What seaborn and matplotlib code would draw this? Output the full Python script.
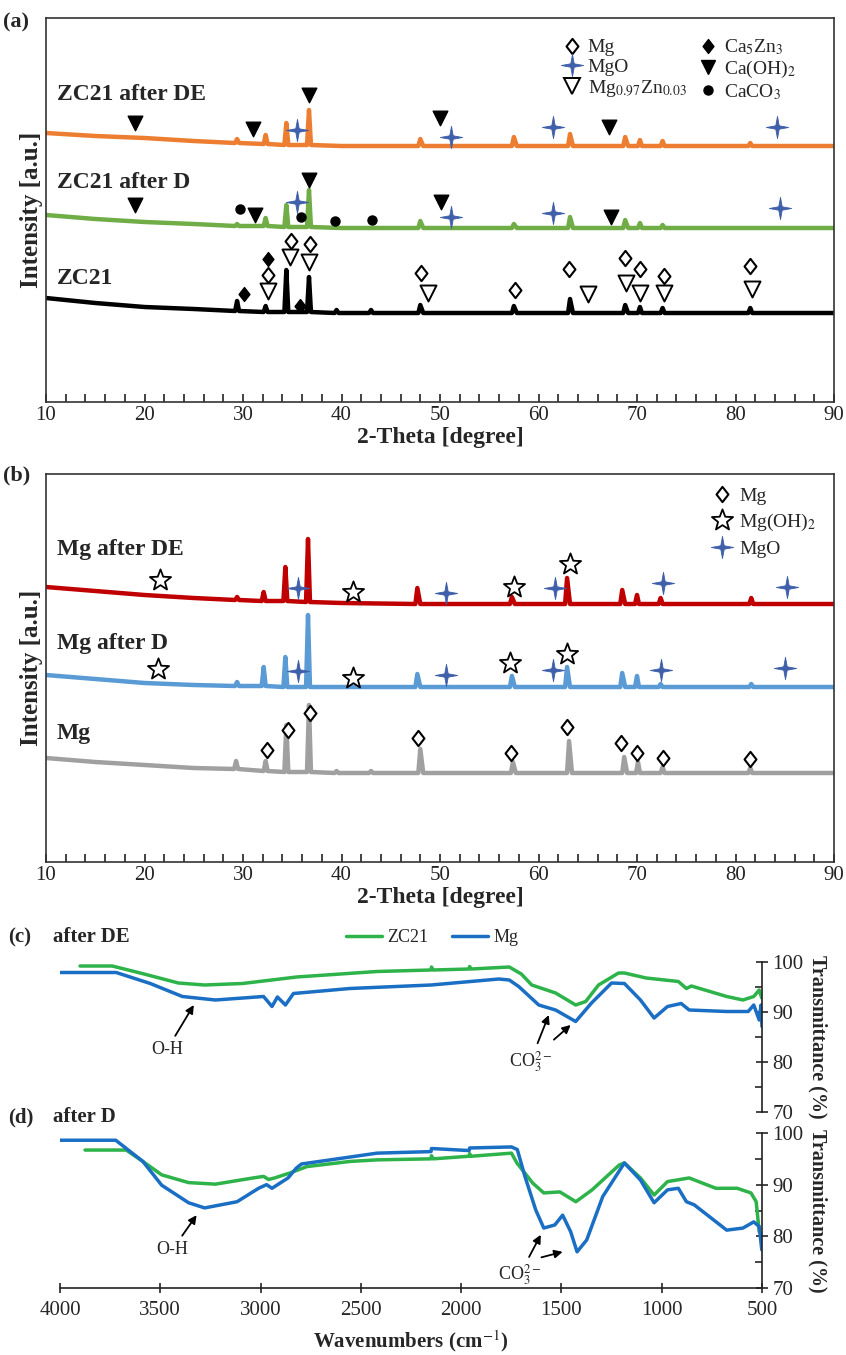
import numpy as np
import pandas as pd
import seaborn as sns
import matplotlib.pyplot as plt
from matplotlib.path import Path
from matplotlib.lines import Line2D
from matplotlib.ticker import MultipleLocator

# ---------------- XRD (a): ZC21 ----------------
zc21_de_tt = [10, 15, 20, 25, 29.2, 29.4, 29.6, 32.1, 32.3, 32.5, 34.2, 34.4, 34.6, 36.5, 36.7, 36.9, 40,
              47.8, 48.0, 48.3, 57.3, 57.5, 57.8, 63.0, 63.2, 63.5, 68.6, 68.8, 69.1, 70.1, 70.3, 70.5,
              72.4, 72.6, 72.8, 81.3, 81.5, 81.7, 90]
zc21_de_int = [269, 266, 264, 261, 259, 263, 259, 258, 267, 258, 257, 279, 257, 257, 292, 257, 256,
               256, 263, 256, 256, 265, 256, 256, 268, 256, 256, 265, 256, 256, 262, 256,
               256, 261, 256, 256, 259, 256, 256]

zc21_d_tt = [10, 15, 20, 25, 29.2, 29.4, 29.6, 32.1, 32.3, 32.5, 34.2, 34.4, 34.6, 36.5, 36.7, 36.9, 40,
             47.8, 48.0, 48.3, 57.3, 57.5, 57.8, 63.0, 63.2, 63.5, 68.6, 68.8, 69.1, 70.1, 70.3, 70.5,
             72.4, 72.6, 72.8, 90]
zc21_d_int = [187, 183, 180, 178, 176, 178, 176, 176, 184, 176, 175, 197, 175, 175, 212, 175, 174,
              174, 181, 174, 174, 178, 174, 174, 185, 174, 174, 182, 174, 174, 179, 174,
              174, 177, 174, 174]

zc21_tt = [10, 15, 20, 25, 29.2, 29.4, 29.6, 32.1, 32.3, 32.5, 34.2, 34.4, 34.6, 36.5, 36.7, 36.9,
           39.3, 39.5, 39.7, 42.8, 43.0, 43.2, 47.8, 48.0, 48.3, 57.3, 57.5, 57.8, 63.0, 63.2, 63.5,
           68.6, 68.8, 69.1, 70.1, 70.3, 70.5, 72.4, 72.6, 72.8, 81.3, 81.5, 81.7, 90]
zc21_int = [104, 99, 95, 93, 91, 101, 91, 90, 96, 90, 90, 132, 90, 90, 125, 90,
            89, 92, 89, 89, 92, 89, 89, 97, 89, 89, 96, 89, 89, 103, 89,
            89, 97, 89, 89, 95, 89, 89, 94, 89, 89, 94, 89, 89]

# phase markers (a)
caoh2_tt = [19.0, 31.0, 36.7, 50.0, 67.2, 19.0, 31.2, 36.7, 50.1, 67.4]
caoh2_int = [279, 273, 307, 284, 275, 197, 187, 222, 200, 185]
mgo_a_tt = [35.5, 51.1, 61.5, 84.2, 35.5, 51.1, 61.5, 84.5]
mgo_a_int = [272, 265, 275, 275, 200, 185, 189, 194]
caco3_tt = [29.7, 35.9, 39.3, 43.1]
caco3_int = [193, 185, 181, 182]
ca5zn3_tt = [30.1, 32.5, 35.8]
ca5zn3_int = [108, 143, 96]
mg_a_tt = [32.5, 34.9, 36.8, 48.1, 57.6, 63.1, 68.8, 70.3, 72.7, 81.5]
mg_a_int = [127, 161, 158, 129, 112, 133, 144, 133, 126, 136]
mgzn_tt = [32.5, 34.8, 36.7, 48.8, 65.0, 68.9, 70.3, 72.7, 81.7]
mgzn_int = [111, 145, 140, 109, 108, 119, 109, 109, 113]

# ---------------- XRD (b): Mg ----------------
mg_de_tt = [10, 15, 20, 25, 29.2, 29.4, 29.6, 31.9, 32.1, 32.3, 34.1, 34.3, 34.5, 36.4, 36.6, 36.8, 40,
            47.5, 47.7, 48.0, 57.1, 57.3, 57.6, 62.7, 62.9, 63.2, 68.3, 68.5, 68.8, 69.8, 70.0, 70.2,
            72.2, 72.4, 72.6, 81.4, 81.6, 81.8, 90]
mg_de_int = [275, 271, 267, 264, 262, 265, 262, 261, 270, 261, 261, 295, 261, 260, 323, 260, 259,
             258, 274, 258, 258, 265, 258, 258, 284, 258, 258, 272, 258, 258, 267, 258,
             258, 264, 258, 258, 264, 258, 258]

mg_d_tt = mg_de_tt
mg_d_int = [187, 183, 179, 177, 176, 180, 176, 176, 195, 176, 175, 205, 175, 175, 247, 175, 175,
            175, 188, 175, 175, 186, 175, 175, 195, 175, 175, 189, 175, 175, 186, 175,
            175, 178, 175, 175, 178, 175, 175]

mg_tt = [10, 15, 20, 25, 29.1, 29.3, 29.5, 32.1, 32.3, 32.5, 34.2, 34.4, 34.6, 36.5, 36.7, 36.9,
         39.3, 39.5, 39.7, 42.8, 43.0, 43.2, 47.8, 48.0, 48.3, 57.2, 57.4, 57.7, 62.9, 63.1, 63.4,
         68.5, 68.7, 69.0, 69.9, 70.1, 70.3, 72.4, 72.6, 72.8, 81.3, 81.5, 81.7, 90]
mg_int = [104, 100, 97, 94, 93, 101, 93, 91, 101, 91, 90, 137, 90, 90, 157, 90,
          89, 91, 89, 89, 91, 89, 89, 113, 89, 89, 100, 89, 89, 121, 89,
          89, 105, 89, 89, 100, 89, 89, 95, 89, 89, 94, 89, 89]

mgoh2_tt = [21.6, 41.2, 57.5, 63.2, 21.4, 41.2, 57.1, 62.9]
mgoh2_int = [282, 270, 275, 298, 193, 184, 199, 208]
mgo_b_tt = [35.6, 50.6, 61.7, 72.6, 85.2, 35.6, 50.6, 61.5, 72.4, 85.0]
mgo_b_int = [274, 269, 274, 279, 275, 191, 187, 192, 192, 194]
mg_b_tt = [32.4, 34.6, 36.8, 47.8, 57.2, 62.9, 68.4, 70.0, 72.6, 81.5]
mg_b_int = [112, 132, 149, 124, 109, 135, 119, 109, 104, 103]

# ---------------- FTIR (c) after DE ----------------
wn_c_zc = [3900, 3740, 3600, 3410, 3280, 3090, 2820, 2420, 2150, 2148, 2140, 1960, 1958, 1950, 1760,
           1700, 1648, 1529, 1429, 1379, 1315, 1215, 1186, 1078, 917, 877, 852, 676, 595, 541, 514, 501]
t_c_zc = [99.2, 99.2, 97.8, 95.8, 95.4, 95.7, 97.0, 98.1, 98.4, 99.0, 98.4, 98.6, 99.1, 98.6, 99.0,
          97.6, 95.4, 93.8, 91.4, 92.1, 95.4, 97.8, 97.8, 96.8, 96.1, 94.7, 95.2, 93.1, 92.4, 93.1, 94.4, 92.8]
wn_c_mg = [4000, 3720, 3550, 3390, 3225, 2985, 2943, 2916, 2876, 2836, 2555, 2150, 1812, 1760, 1713,
           1613, 1529, 1429, 1350, 1250, 1186, 1106, 1038, 971, 903, 863, 676, 569, 541, 514, 505, 500]
t_c_mg = [97.9, 97.9, 95.7, 93.1, 92.4, 93.1, 91.1, 93.0, 91.4, 93.7, 94.7, 95.4, 96.6, 96.4, 95.1,
          91.4, 90.4, 88.1, 91.8, 95.8, 95.7, 92.4, 88.8, 91.1, 91.7, 90.4, 90.1, 90.1, 91.4, 88.4, 91.4, 87.1]

# ---------------- FTIR (d) after D ----------------
wn_d_zc = [3875, 3670, 3587, 3493, 3359, 3225, 3037, 2985, 2960, 2930, 2851, 2769, 2553, 2419, 2150,
           2148, 2140, 1960, 1958, 1950, 1749, 1722, 1643, 1588, 1508, 1428, 1347, 1212, 1186, 1106,
           1038, 971, 863, 730, 624, 555, 529, 514]
t_d_zc = [96.7, 96.7, 94.5, 91.9, 90.4, 90.1, 91.3, 91.6, 91.0, 91.3, 92.3, 93.5, 94.5, 94.8, 95.0,
          95.6, 95.0, 95.5, 96.0, 95.5, 96.1, 94.2, 90.3, 88.4, 88.6, 86.7, 89.0, 93.8, 94.2, 91.3,
          88.0, 90.6, 91.3, 89.3, 89.3, 88.4, 86.7, 80.9]
wn_d_mg = [4000, 3722, 3587, 3493, 3359, 3279, 3117, 3010, 2970, 2943, 2903, 2863, 2822, 2796, 2419,
           2150, 2148, 1960, 1958, 1749, 1720, 1682, 1628, 1588, 1533, 1494, 1454, 1422, 1374, 1294,
           1186, 1106, 1038, 971, 917, 877, 838, 676, 595, 541, 514, 501]
t_d_mg = [98.6, 98.6, 94.5, 89.9, 86.5, 85.5, 86.7, 89.3, 90.0, 89.3, 90.3, 91.3, 93.2, 94.0, 96.1,
          96.4, 97.0, 96.6, 97.1, 97.3, 96.8, 91.6, 85.1, 81.6, 82.2, 84.1, 80.9, 77.0, 79.3, 87.7,
          94.2, 90.9, 86.5, 89.0, 89.3, 86.7, 86.1, 81.2, 81.6, 82.8, 81.9, 77.4]

# ---------------- styling ----------------
sns.set_theme(style="ticks")
plt.rcParams['font.family'] = ['Liberation Serif', 'DejaVu Serif']
plt.rcParams['mathtext.fontset'] = 'stix'

W, H = 846, 1355
ORANGE, GREEN, BLACK = '#ED7D31', '#70AD47', '#000000'
RED, LBLUE, GRAY = '#C00000', '#5B9BD5', '#A0A0A0'
STAR_BLUE = '#3F5FAA'
IR_GREEN, IR_BLUE = '#2DB34A', '#1A6FC4'
XRD_LW = 3.2


def star_marker(n, inner):
    ang = np.linspace(0, 2 * np.pi, 2 * n, endpoint=False) + np.pi / 2
    rad = np.array([1.0, inner] * n)
    verts = list(zip(rad * np.cos(ang), rad * np.sin(ang)))
    verts.append(verts[0])
    codes = [Path.MOVETO] + [Path.LINETO] * (2 * n - 1) + [Path.CLOSEPOLY]
    return Path(verts, codes)


STAR4 = star_marker(4, 0.22)
STAR5 = star_marker(5, 0.42)
DIAMOND = Path([(0, 1), (0.78, 0), (0, -1), (-0.78, 0), (0, 1)],
               [Path.MOVETO, Path.LINETO, Path.LINETO, Path.LINETO, Path.CLOSEPOLY])

MARKERS = {
    'mg': dict(marker=DIAMOND, ms=11, mfc='white', mec='black', mew=1.5),
    'mgo': dict(marker=STAR4, ms=16, mfc=STAR_BLUE, mec=STAR_BLUE, mew=0.6),
    'mgzn': dict(marker='v', ms=11.5, mfc='white', mec='black', mew=1.4),
    'ca5zn3': dict(marker=DIAMOND, ms=10, mfc='black', mec='black', mew=1),
    'caoh2': dict(marker='v', ms=10.5, mfc='black', mec='black', mew=1),
    'caco3': dict(marker='o', ms=6.5, mfc='black', mec='black', mew=1),
    'mgoh2': dict(marker=STAR5, ms=16, mfc='white', mec='black', mew=1.3),
}


def scatter(ax, xs, ys, key):
    st = MARKERS[key]
    sns.scatterplot(x=xs, y=ys, marker=st['marker'], s=st['ms'] ** 2, facecolor=st['mfc'],
                    edgecolor=st['mec'], linewidth=st['mew'], ax=ax, zorder=4, legend=False)


def handle(key, label):
    st = MARKERS[key]
    return Line2D([], [], ls='', label=label, **st)


def xrd_axes(top_px, bottom_px):
    ax = fig.add_axes([46 / W, 1 - bottom_px / H, 788 / W, (bottom_px - top_px) / H])
    ax.set_xlim(10, 90)
    ax.set_ylim(0, bottom_px - top_px)
    ax.xaxis.set_major_locator(MultipleLocator(10))
    ax.xaxis.set_minor_locator(MultipleLocator(2))
    ax.tick_params(axis='x', which='both', direction='in', length=6, width=1.2,
                   labelsize=15, pad=3, colors='#222222')
    ax.set_yticks([])
    for s in ax.spines.values():
        s.set_linewidth(1.2)
        s.set_color('#333333')
    ax.set_xlabel('2-Theta [degree]', fontsize=17, fontweight='bold', labelpad=1)
    ax.set_ylabel('Intensity [a.u.]', fontsize=18, fontweight='bold', labelpad=2)
    return ax


def line(ax, xs, ys, color, lw, label=None):
    sns.lineplot(x=xs, y=ys, sort=False, estimator=None, color=color, lw=lw, ax=ax,
                 label=label, legend=False)


fig = plt.figure(figsize=(W / 100, H / 100), dpi=100)

# ---- (a)
ax_a = xrd_axes(18, 402)
line(ax_a, zc21_de_tt, zc21_de_int, ORANGE, XRD_LW)
line(ax_a, zc21_d_tt, zc21_d_int, GREEN, XRD_LW)
line(ax_a, zc21_tt, zc21_int, BLACK, XRD_LW)
scatter(ax_a, caoh2_tt, caoh2_int, 'caoh2')
scatter(ax_a, mgo_a_tt, mgo_a_int, 'mgo')
scatter(ax_a, caco3_tt, caco3_int, 'caco3')
scatter(ax_a, ca5zn3_tt, ca5zn3_int, 'ca5zn3')
scatter(ax_a, mg_a_tt, mg_a_int, 'mg')
scatter(ax_a, mgzn_tt, mgzn_int, 'mgzn')
for txt, yv in [('ZC21 after DE', 307), ('ZC21 after D', 220), ('ZC21', 124)]:
    ax_a.text(11.1, yv, txt, fontsize=17, fontweight='bold', va='center')
ax_a.legend(handles=[handle('mg', 'Mg'), handle('mgo', 'MgO'),
                     handle('mgzn', r'Mg$_{0.97}$Zn$_{0.03}$'),
                     handle('ca5zn3', r'Ca$_5$Zn$_3$'), handle('caoh2', r'Ca(OH)$_2$'),
                     handle('caco3', r'CaCO$_3$')],
            ncol=2, loc='upper left', bbox_to_anchor=(0.643, 0.975), frameon=False,
            fontsize=14, handlelength=1.0, handletextpad=0.3, columnspacing=0.6,
            labelspacing=0.1, borderpad=0)

# ---- (b)
ax_b = xrd_axes(474, 862)
line(ax_b, mg_de_tt, mg_de_int, RED, XRD_LW)
line(ax_b, mg_d_tt, mg_d_int, LBLUE, XRD_LW)
line(ax_b, mg_tt, mg_int, GRAY, XRD_LW)
scatter(ax_b, mgoh2_tt, mgoh2_int, 'mgoh2')
scatter(ax_b, mgo_b_tt, mgo_b_int, 'mgo')
scatter(ax_b, mg_b_tt, mg_b_int, 'mg')
for txt, yv in [('Mg after DE', 313), ('Mg after D', 219), ('Mg', 129)]:
    ax_b.text(11.1, yv, txt, fontsize=17, fontweight='bold', va='center')
ax_b.legend(handles=[handle('mg', 'Mg'), handle('mgoh2', r'Mg(OH)$_2$'), handle('mgo', 'MgO')],
            loc='upper left', bbox_to_anchor=(0.833, 0.99), frameon=False, fontsize=14,
            handlelength=1.0, handletextpad=0.4, labelspacing=0.35, borderpad=0)

fig.text(3 / W, 1 - 22 / H, '(a)', fontsize=16, fontweight='bold', va='center')
fig.text(3 / W, 1 - 475 / H, '(b)', fontsize=16, fontweight='bold', va='center')


# ---- FTIR
def ftir_axes(top_px, bottom_px):
    ax = fig.add_axes([60 / W, 1 - bottom_px / H, 702 / W, (bottom_px - top_px) / H])
    ax.set_facecolor('none')
    ax.set_xlim(4000, 500)
    ax.set_ylim(70, 100)
    for side in ['left', 'top', 'bottom']:
        ax.spines[side].set_visible(False)
    ax.spines['right'].set_bounds(70, 100)
    ax.spines['right'].set_linewidth(1.2)
    ax.spines['right'].set_color('#222222')
    ax.yaxis.tick_right()
    ax.yaxis.set_label_position('right')
    ax.set_yticks([70, 80, 90, 100])
    ax.yaxis.set_minor_locator(MultipleLocator(5))
    ax.tick_params(axis='y', which='major', direction='inout', length=9, width=1.2,
                   labelsize=15, pad=3)
    ax.tick_params(axis='y', which='minor', direction='in', length=5, width=1.2)
    ax.set_ylabel('Transmittance (%)', fontsize=14.5, fontweight='bold', rotation=270,
                  labelpad=17)
    return ax


ax_c = ftir_axes(962, 1112)
line(ax_c, wn_c_zc, t_c_zc, IR_GREEN, 2.5, 'ZC21')
line(ax_c, wn_c_mg, t_c_mg, IR_BLUE, 2.5, 'Mg')
ax_c.set_xticks([])
ax_c.legend(loc='center', bbox_to_anchor=(432 / W, 1 - 938 / H), bbox_transform=fig.transFigure,
            ncol=2, frameon=False, fontsize=13, handlelength=2.0, handletextpad=0.3,
            columnspacing=1.3, borderpad=0)
arrow = dict(arrowstyle='-|>', color='black', lw=1.3, mutation_scale=12, shrinkA=2, shrinkB=0)
ax_c.annotate('O-H', xy=(3333, 91.4), xytext=(3468, 82.4), arrowprops=arrow,
              ha='center', va='center', fontsize=13)
ax_c.annotate(r'CO$_3^{2-}$', xy=(1563, 89.4), xytext=(1655, 80.1), arrowprops=arrow,
              ha='center', va='center', fontsize=13)
ax_c.annotate('', xy=(1454, 87.4), xytext=(1548, 84.1), arrowprops=arrow)

ax_d = ftir_axes(1133, 1288)
line(ax_d, wn_d_zc, t_d_zc, IR_GREEN, 2.5)
line(ax_d, wn_d_mg, t_d_mg, IR_BLUE, 2.5)
ax_d.spines['bottom'].set_visible(True)
ax_d.spines['bottom'].set_bounds(500, 4000)
ax_d.spines['bottom'].set_linewidth(1.2)
ax_d.spines['bottom'].set_color('#222222')
ax_d.set_xticks(list(range(4000, 499, -500)))
ax_d.tick_params(axis='x', which='major', direction='inout', length=7, width=1.2,
                 labelsize=15, pad=6, bottom=True)
ax_d.set_xlabel(r'Wavenumbers (cm$^{-1}$)', fontsize=15, fontweight='bold', labelpad=6)
ax_d.annotate('O-H', xy=(3319, 84.1), xytext=(3440, 77.4), arrowprops=arrow,
              ha='center', va='center', fontsize=13)
ax_d.annotate(r'CO$_3^{2-}$', xy=(1603, 80.3), xytext=(1709, 72.5), arrowprops=arrow,
              ha='center', va='center', fontsize=13, annotation_clip=False)
ax_d.annotate('', xy=(1494, 77.0), xytext=(1613, 75.8), arrowprops=arrow)

fig.text(8 / W, 1 - 937 / H, '(c)', fontsize=15, fontweight='bold', va='center')
fig.text(53 / W, 1 - 937 / H, 'after DE', fontsize=15, fontweight='bold', va='center')
fig.text(8 / W, 1 - 1117 / H, '(d)', fontsize=15, fontweight='bold', va='center')
fig.text(53 / W, 1 - 1117 / H, 'after D', fontsize=15, fontweight='bold', va='center')

fig.savefig('out.png', dpi=100)
